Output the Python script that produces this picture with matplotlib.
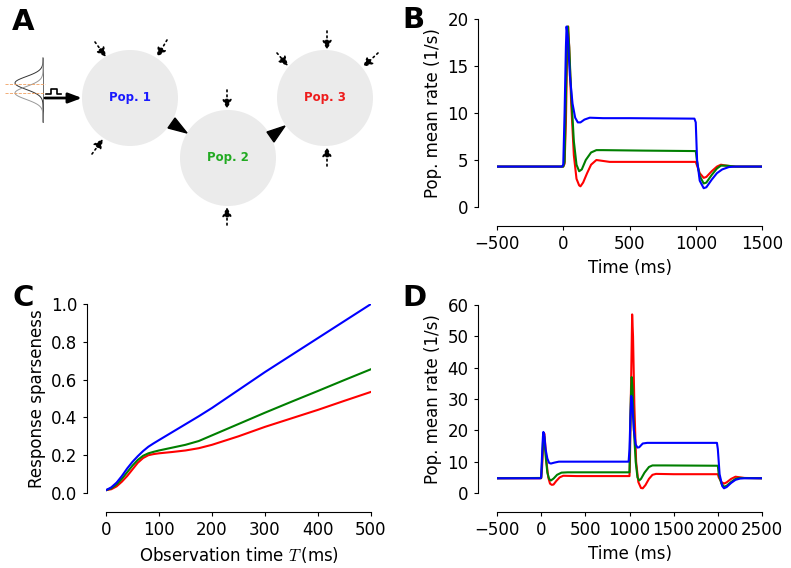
import numpy as np
import matplotlib
matplotlib.use('Agg')
import matplotlib.pyplot as plt
from matplotlib.patches import Circle, Polygon

plt.rcParams['font.family'] = 'DejaVu Sans'
plt.rcParams['mathtext.fontset'] = 'cm'

W, H = 791, 568

# ---- panel B: single step stimulus ----
tB_blue = [-500, -10, 0, 10, 20, 25, 35, 50, 70, 90, 110, 130, 160, 200, 300, 500, 990,
           1000, 1010, 1030, 1060, 1080, 1120, 1160, 1200, 1250, 1300, 1500]
rB_blue = [4.3, 4.3, 4.5, 10, 17, 19.2, 18, 14, 11, 9.5, 9.0, 9.0, 9.3, 9.5, 9.45, 9.45, 9.4,
           9.0, 5, 2.8, 2.0, 2.1, 2.9, 3.6, 4.0, 4.25, 4.3, 4.3]
tB_green = [-500, 0, 10, 20, 30, 35, 45, 60, 80, 100, 120, 140, 170, 210, 250, 300, 600, 1000,
            1010, 1030, 1060, 1080, 1120, 1160, 1190, 1230, 1300, 1500]
rB_green = [4.3, 4.3, 4.8, 12, 18.8, 19.2, 17, 12, 7, 4.5, 3.8, 4.0, 5.0, 5.8, 6.05, 6.05, 6.0, 5.95,
            4.8, 3.3, 2.5, 2.6, 3.4, 4.1, 4.4, 4.4, 4.3, 4.3]
tB_red = [-500, 0, 10, 20, 30, 37, 45, 60, 80, 100, 120, 130, 150, 180, 210, 250, 300, 350, 1000,
          1010, 1030, 1060, 1080, 1120, 1160, 1190, 1230, 1300, 1500]
rB_red = [4.3, 4.3, 4.6, 9, 17, 19.2, 17, 11, 5.5, 3, 2.3, 2.2, 2.6, 3.6, 4.5, 5.0, 4.9, 4.8, 4.8,
          4.4, 3.6, 3.1, 3.2, 3.8, 4.3, 4.5, 4.4, 4.3, 4.3]

# ---- panel C: response sparseness ----
tC = [0, 10, 20, 30, 40, 50, 60, 70, 80, 90, 100, 125, 150, 175, 200, 250, 300, 350, 400, 450, 500]
sC_blue = [0.015, 0.03, 0.055, 0.09, 0.13, 0.165, 0.195, 0.222, 0.245, 0.263, 0.28, 0.322, 0.364,
           0.406, 0.45, 0.545, 0.64, 0.73, 0.82, 0.91, 1.0]
sC_green = [0.015, 0.025, 0.045, 0.075, 0.11, 0.145, 0.175, 0.197, 0.21, 0.218, 0.225, 0.24, 0.255,
            0.275, 0.305, 0.365, 0.425, 0.483, 0.54, 0.598, 0.655]
sC_red = [0.015, 0.02, 0.035, 0.06, 0.09, 0.125, 0.16, 0.185, 0.2, 0.206, 0.21, 0.217, 0.225,
          0.237, 0.255, 0.3, 0.35, 0.395, 0.44, 0.488, 0.535]

# ---- panel D: two-step stimulus ----
tD_blue = [-500, -10, 0, 10, 20, 25, 35, 50, 70, 90, 110, 150, 200, 500, 990,
           1000, 1010, 1020, 1030, 1050, 1070, 1090, 1110, 1150, 1200, 1500, 1990,
           2000, 2020, 2050, 2070, 2100, 2150, 2200, 2250, 2300, 2500]
rD_blue = [4.7, 4.7, 5, 12, 18, 19.5, 18.5, 14, 11, 9.6, 9.4, 9.7, 10, 10, 10,
           14, 24, 31, 29, 20, 15.5, 14.5, 14.6, 15.8, 16, 16, 16,
           14, 6, 2.2, 1.5, 1.9, 3.2, 4.2, 4.6, 4.7, 4.7]
tD_green = [-500, 0, 10, 25, 35, 50, 70, 90, 110, 140, 180, 230, 300, 1000,
            1005, 1015, 1025, 1035, 1050, 1070, 1090, 1110, 1130, 1170, 1220, 1260, 1400, 2000,
            2010, 2040, 2070, 2100, 2150, 2200, 2250, 2500]
rD_green = [4.7, 4.8, 10, 19, 18, 12, 6.5, 4.5, 4.0, 4.6, 5.8, 6.5, 6.6, 6.6,
            15, 30, 37, 33, 20, 10, 5, 4, 4.5, 6.5, 8.3, 8.8, 8.8, 8.7,
            6, 3, 2.0, 2.3, 3.5, 4.5, 4.8, 4.7]
tD_red = [-500, 0, 10, 25, 35, 45, 60, 80, 100, 120, 140, 170, 210, 250, 400, 1000,
          1005, 1015, 1030, 1040, 1055, 1075, 1100, 1130, 1150, 1180, 1220, 1260, 1300, 1500, 2000,
          2010, 2040, 2070, 2100, 2150, 2200, 2250, 2300, 2500]
rD_red = [4.7, 4.7, 8, 17, 19, 16, 10, 5, 3, 2.6, 2.7, 3.8, 5, 5.5, 5.4, 5.4,
          10, 30, 57, 50, 28, 10, 3.5, 1.6, 1.5, 2.5, 4.5, 5.8, 6.1, 6.0, 6.0,
          5, 3.5, 3.0, 3.4, 4.5, 5.2, 5.0, 4.8, 4.7]

BLUE = '#0000ff'
GREEN = '#007f00'
RED = '#ff0000'


def px_axes(fig, x0, y0, x1, y1):
	# axes from pixel box (top-left origin)
	return fig.add_axes([x0 / W, 1 - y1 / H, (x1 - x0) / W, (y1 - y0) / H])


def style_axes(ax):
	for s in ['top', 'right']:
		ax.spines[s].set_visible(False)
	ax.spines['left'].set_position(('outward', 14))
	ax.spines['bottom'].set_position(('outward', 14))
	ax.tick_params(direction='out', length=3, labelsize=12)
	ax.yaxis.label.set_size(12)
	ax.xaxis.label.set_size(12)


def small_input(ax, x0, y0, x1, y1):
	ax.annotate('', xy=(x1, y1), xytext=(x0, y0),
		arrowprops=dict(arrowstyle='-|>,head_length=0.55,head_width=0.28', lw=1.2,
			linestyle=(0, (1, 2)), color='black', shrinkA=0, shrinkB=0))


def draw_diagram(ax):
	ax.set_xlim(0, 400)
	ax.set_ylim(280, 0)
	ax.axis('off')

	circles = [((130, 98), 'Pop. 1', '#1a1aff'), ((228, 158), 'Pop. 2', '#22aa22'),
		((325, 98), 'Pop. 3', '#ee1c1c')]
	for (cx, cy), name, col in circles:
		ax.add_patch(Circle((cx, cy), 48, facecolor='#ebebeb', edgecolor='none'))
		ax.text(cx, cy, name, color=col, fontsize=8.5, fontweight='bold', ha='center', va='center')

	# connections
	ax.add_patch(Polygon([(168, 128), (175, 118), (187, 133)], closed=True, color='black'))
	ax.add_patch(Polygon([(267, 132), (285, 126), (274, 142)], closed=True, color='black'))

	# background inputs
	small_input(ax, 95, 42, 106, 57)
	small_input(ax, 167, 40, 157, 57)
	small_input(ax, 92, 154, 103, 139)
	small_input(ax, 227, 90, 227, 109)
	small_input(ax, 227, 225, 227, 207)
	small_input(ax, 327, 31, 327, 50)
	small_input(ax, 277, 53, 288, 66)
	small_input(ax, 378, 53, 363, 67)
	small_input(ax, 327, 166, 327, 147)

	# stimulus arrow and pulse
	ax.annotate('', xy=(82, 98), xytext=(45, 98),
		arrowprops=dict(arrowstyle='-|>,head_length=0.8,head_width=0.3', lw=2.0,
			color='black', shrinkA=0, shrinkB=0))
	ax.plot([46, 51, 51, 57, 57, 61], [94, 94, 89, 89, 94, 94], color='black', lw=1.2)

	# tuning curves icon
	yy = np.linspace(58, 122, 100)
	ax.plot([43, 43], [58, 122], color='#555555', lw=0.6)
	ax.plot(43 - 28 * np.exp(-((yy - 83) / 9) ** 2), yy, color='#333333', lw=0.7)
	ax.plot(43 - 28 * np.exp(-((yy - 93) / 9) ** 2), yy, color='#999999', lw=0.7)
	ax.plot([5, 45], [84, 84], color='#f0a060', lw=0.6, linestyle='--')
	ax.plot([5, 45], [93, 93], color='#f0a060', lw=0.6, linestyle='--')


def main():
	fig = plt.figure(figsize=(W / 100, H / 100), dpi=100)

	axA = px_axes(fig, 0, 0, 400, 280)
	draw_diagram(axA)

	axB = px_axes(fig, 497, 19, 762, 207)
	axB.plot(tB_red, rB_red, color=RED, lw=1.5)
	axB.plot(tB_green, rB_green, color=GREEN, lw=1.5)
	axB.plot(tB_blue, rB_blue, color=BLUE, lw=1.5)
	axB.set_xlim(-500, 1500)
	axB.set_ylim(0, 20)
	axB.set_xticks([-500, 0, 500, 1000, 1500])
	axB.set_yticks([0, 5, 10, 15, 20])
	axB.set_xlabel('Time (ms)')
	axB.set_ylabel('Pop. mean rate (1/s)')
	style_axes(axB)

	axC = px_axes(fig, 106, 304, 371, 493)
	axC.plot(tC, sC_red, color=RED, lw=1.5)
	axC.plot(tC, sC_green, color=GREEN, lw=1.5)
	axC.plot(tC, sC_blue, color=BLUE, lw=1.5)
	axC.set_xlim(0, 500)
	axC.set_ylim(0, 1)
	axC.set_xticks([0, 100, 200, 300, 400, 500])
	axC.set_yticks([0.0, 0.2, 0.4, 0.6, 0.8, 1.0])
	axC.set_xlabel(r'Observation time $T\,$(ms)')
	axC.set_ylabel('Response sparseness')
	style_axes(axC)

	axD = px_axes(fig, 497, 305, 762, 493)
	axD.plot(tD_red, rD_red, color=RED, lw=1.5)
	axD.plot(tD_green, rD_green, color=GREEN, lw=1.5)
	axD.plot(tD_blue, rD_blue, color=BLUE, lw=1.5)
	axD.set_xlim(-500, 2500)
	axD.set_ylim(0, 60)
	axD.set_xticks([-500, 0, 500, 1000, 1500, 2000, 2500])
	axD.set_yticks([0, 10, 20, 30, 40, 50, 60])
	axD.set_xlabel('Time (ms)')
	axD.set_ylabel('Pop. mean rate (1/s)')
	style_axes(axD)

	for lab, x, y in [('A', 12, 8), ('B', 402, 6), ('C', 12, 284), ('D', 402, 284)]:
		fig.text(x / W, 1 - y / H, lab, fontsize=21, fontweight='bold', ha='left', va='top')

	fig.savefig('out.png', dpi=100)


if __name__ == '__main__':
	main()
